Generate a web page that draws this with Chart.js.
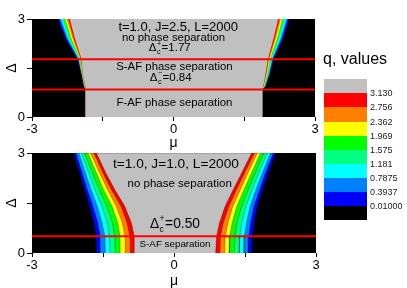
<!DOCTYPE html>
<html>
<head>
<meta charset="utf-8">
<script src="https://cdn.jsdelivr.net/npm/chart.js@4.4.0/dist/chart.umd.min.js"></script>
<style>
  body { margin:0; width:407px; height:288px; position:relative; background:#fff; overflow:hidden; font-family:"Liberation Sans", Arial, sans-serif; }
  canvas { position:absolute; left:0; }
  #legendTitle { position:absolute; left:323px; top:51px; font-size:16px; line-height:16px; color:#000; white-space:nowrap; }
  .box { position:absolute; left:324px; width:43px; }
  .lab { position:absolute; left:370px; font-size:9px; line-height:10px; color:#222; }
</style>
</head>
<body>
<canvas id="c1" width="330" height="150" style="top:0px"></canvas>
<canvas id="c2" width="330" height="148" style="top:140px"></canvas>
<div id="legendTitle">q, values</div>
<div id="legend"></div>
<script>
// ---------- data ----------
const levelValues = [0.01, 0.3937, 0.7875, 1.181, 1.575, 1.969, 2.362, 2.756, 3.13];
const levelLabels = ['3.130', '2.756', '2.362', '1.969', '1.575', '1.181', '0.7875', '0.3937', '0.01000'];
// colour of the band just above each level (last = above 3.130)
const bandColors = ['#0000ff', '#0080ff', '#00ffff', '#00ff80', '#00ff00', '#ffff00', '#ff8000', '#ff0000', '#c0c0c0'];
const belowColor = '#000000';

const muTicks = [-3, -1.5, 0, 1.5, 3];
const deltaTicks = [0, 1.5, 3];

// Top panel: t=1.0, J=2.5, L=2000
const deltaTop = [0, 0.84, 0.93, 1.3, 1.77, 2.4, 3];
const topLeft = [
  [-1.86, -1.86, -1.900, -1.950, -2.030, -2.290, -2.450],
  [-1.86, -1.86, -1.896, -1.946, -2.020, -2.265, -2.419],
  [-1.86, -1.86, -1.893, -1.943, -2.010, -2.240, -2.388],
  [-1.86, -1.86, -1.889, -1.939, -2.000, -2.215, -2.356],
  [-1.86, -1.86, -1.885, -1.935, -1.990, -2.190, -2.325],
  [-1.86, -1.86, -1.881, -1.931, -1.980, -2.165, -2.294],
  [-1.86, -1.86, -1.878, -1.928, -1.970, -2.140, -2.263],
  [-1.86, -1.86, -1.874, -1.924, -1.960, -2.115, -2.231],
  [-1.86, -1.86, -1.870, -1.920, -1.950, -2.090, -2.200]
];
const topRight = [
  [1.88, 1.88, 1.950, 2.040, 2.120, 2.320, 2.450],
  [1.88, 1.88, 1.944, 2.029, 2.105, 2.295, 2.421],
  [1.88, 1.88, 1.938, 2.018, 2.090, 2.270, 2.393],
  [1.88, 1.88, 1.931, 2.006, 2.075, 2.245, 2.364],
  [1.88, 1.88, 1.925, 1.995, 2.060, 2.220, 2.335],
  [1.88, 1.88, 1.919, 1.984, 2.045, 2.195, 2.306],
  [1.88, 1.88, 1.913, 1.973, 2.030, 2.170, 2.278],
  [1.88, 1.88, 1.906, 1.961, 2.015, 2.145, 2.249],
  [1.88, 1.88, 1.900, 1.950, 2.000, 2.120, 2.220]
];
const criticalTop = [1.77, 0.84];

// Bottom panel: t=1.0, J=1.0, L=2000
const deltaBottom = [0, 0.5, 0.9, 1.4, 1.9, 2.4, 3];
const bottomLeft = [
  [-1.63, -1.64, -1.69, -1.78, -1.89, -1.99, -2.12],
  [-1.55, -1.56, -1.61, -1.71, -1.83, -1.94, -2.07],
  [-1.45, -1.46, -1.52, -1.62, -1.75, -1.87, -2.01],
  [-1.35, -1.36, -1.41, -1.52, -1.67, -1.80, -1.95],
  [-1.24, -1.25, -1.30, -1.42, -1.58, -1.72, -1.89],
  [-1.13, -1.14, -1.19, -1.31, -1.49, -1.64, -1.82],
  [-1.02, -1.03, -1.09, -1.22, -1.40, -1.57, -1.76],
  [-0.92, -0.93, -0.99, -1.12, -1.32, -1.50, -1.69],
  [-0.83, -0.84, -0.90, -1.04, -1.25, -1.44, -1.64]
];
const bottomRight = [
  [1.65, 1.66, 1.69, 1.76, 1.87, 1.99, 2.15],
  [1.57, 1.58, 1.62, 1.69, 1.81, 1.93, 2.10],
  [1.48, 1.49, 1.53, 1.61, 1.73, 1.87, 2.04],
  [1.38, 1.39, 1.43, 1.52, 1.65, 1.79, 1.97],
  [1.27, 1.29, 1.33, 1.43, 1.57, 1.72, 1.90],
  [1.17, 1.18, 1.23, 1.33, 1.48, 1.64, 1.83],
  [1.07, 1.08, 1.14, 1.24, 1.40, 1.56, 1.76],
  [0.97, 0.98, 1.04, 1.16, 1.32, 1.49, 1.70],
  [0.88, 0.90, 0.96, 1.08, 1.25, 1.43, 1.64]
];
const criticalBottom = [0.50];

// ---------- annotations (text) ----------
const topNotes = [
  { text: 't=1.0, J=2.5, L=2000', x: 0.10, y: 2.73, size: 13 },
  { text: 'no phase separation', x: 0.0, y: 2.43, size: 11.4 },
  { delta: '+', text: '=1.77', x: -0.08, y: 2.11, size: 11.5 },
  { text: 'S-AF phase separation', x: 0.02, y: 1.53, size: 11.4 },
  { delta: '\u2212', text: '=0.84', x: -0.06, y: 1.20, size: 11.5 },
  { text: 'F-AF phase separation', x: 0.02, y: 0.44, size: 11.4 }
];
const bottomNotes = [
  { text: 't=1.0, J=1.0, L=2000', x: 0.04, y: 2.65, size: 13.7 },
  { text: 'no phase separation', x: 0.12, y: 2.07, size: 11.5 },
  { delta: '+', text: '=0.50', x: 0.02, y: 0.87, size: 13.8 },
  { text: 'S-AF separation', x: 0.02, y: 0.26, size: 9.8 }
];

const FONT = '"Liberation Sans", Arial, sans-serif';

const bgPlugin = {
  id: 'bg',
  beforeDatasetsDraw(chart) {
    const a = chart.chartArea, ctx = chart.ctx;
    ctx.save(); ctx.fillStyle = belowColor;
    ctx.fillRect(a.left, a.top, a.right - a.left, a.bottom - a.top);
    ctx.restore();
  }
};

const notePlugin = {
  id: 'notes',
  afterDatasetsDraw(chart, args, opts) {
    const ctx = chart.ctx, xs = chart.scales.x, ys = chart.scales.y;
    ctx.save();
    ctx.fillStyle = '#000';
    ctx.textBaseline = 'middle';
    (opts.items || []).forEach(n => {
      const px = xs.getPixelForValue(n.x), py = ys.getPixelForValue(n.y);
      if (!n.delta) {
        ctx.font = n.size + 'px ' + FONT;
        ctx.textAlign = 'center';
        ctx.fillText(n.text, px, py);
      } else {
        const s = n.size, ss = s * 0.62;
        ctx.font = s + 'px ' + FONT;
        const wD = ctx.measureText('\u0394').width;
        const wT = ctx.measureText(n.text).width;
        ctx.font = ss + 'px ' + FONT;
        const wS = Math.max(ctx.measureText(n.delta).width, ctx.measureText('c').width);
        const total = wD + wS + 1 + wT;
        let x0 = px - total / 2;
        ctx.textAlign = 'left';
        ctx.font = s + 'px ' + FONT;
        ctx.fillText('\u0394', x0, py);
        ctx.font = ss + 'px ' + FONT;
        ctx.fillText(n.delta, x0 + wD + 0.5, py - s * 0.38);
        ctx.fillText('c', x0 + wD + 0.5, py + s * 0.38);
        ctx.font = s + 'px ' + FONT;
        ctx.fillText(n.text, x0 + wD + wS + 1, py);
      }
    });
    ctx.restore();
  }
};

function makeChart(id, deltas, left, right, critical, notes, lay) {
  const datasets = [];
  levelValues.forEach((lv, k) => {
    const pts = deltas.map((d, i) => ({ x: left[k][i], y: d }))
      .concat(deltas.map((d, i) => ({ x: right[k][i], y: d })).reverse());
    datasets.push({
      label: 'q>' + lv,
      data: pts,
      showLine: true,
      fill: 'shape',
      backgroundColor: bandColors[k],
      borderColor: lay.lineColor,
      borderWidth: lay.lineWidth,
      pointRadius: 0,
      tension: 0,
      order: 20 - k
    });
  });
  critical.forEach(c => {
    datasets.push({
      label: 'Delta_c ' + c,
      data: [{ x: muTicks[0], y: c }, { x: muTicks[muTicks.length - 1], y: c }],
      showLine: true, fill: false,
      borderColor: '#ff0000', borderWidth: 2, pointRadius: 0, order: 0
    });
  });
  return new Chart(document.getElementById(id), {
    type: 'scatter',
    data: { datasets },
    options: {
      responsive: false,
      animation: false,
      layout: { padding: lay.padding },
      plugins: { legend: { display: false }, tooltip: { enabled: false }, notes: { items: notes } },
      scales: {
        x: {
          type: 'linear', min: -3, max: 3,
          afterBuildTicks: s => { s.ticks = muTicks.map(v => ({ value: v })); },
          afterFit: s => { s.height = lay.xHeight; },
          ticks: { autoSkip: false, maxRotation: 0, padding: 1, color: '#000',
                   font: { family: FONT, size: 13 },
                   callback: v => (v % 3 === 0 ? String(v) : '') },
          grid: { drawOnChartArea: false, drawTicks: true, tickLength: 4, color: '#000' },
          border: { display: false },
          title: { display: true, text: '\u03bc', color: '#000', font: { family: FONT, size: 14, lineHeight: 1 }, padding: { top: 0, bottom: lay.xTitlePad } }
        },
        y: {
          type: 'linear', min: 0, max: 3,
          afterBuildTicks: s => { s.ticks = deltaTicks.map(v => ({ value: v })); },
          afterFit: s => { s.width = 32; },
          ticks: { autoSkip: false, padding: 2, color: '#000',
                   font: { family: FONT, size: 13 },
                   callback: v => (v % 3 === 0 ? String(v) : '') },
          grid: { drawOnChartArea: false, drawTicks: true, tickLength: 5, color: '#000' },
          border: { display: false },
          title: { display: true, text: '\u0394', color: '#000', font: { family: FONT, size: 14, lineHeight: 1 }, padding: { top: 5, bottom: 0 } }
        }
      }
    },
    plugins: [bgPlugin, notePlugin]
  });
}

makeChart('c1', deltaTop, topLeft, topRight, criticalTop, topNotes,
  { padding: { left: 0, top: 19, right: 15, bottom: 0 }, xHeight: 33, xTitlePad: 0, lineColor: 'rgba(0,0,0,0)', lineWidth: 0 });
makeChart('c2', deltaBottom, bottomLeft, bottomRight, criticalBottom, bottomNotes,
  { padding: { left: 0, top: 13, right: 14, bottom: 0 }, xHeight: 35, xTitlePad: 0, lineColor: 'rgba(0,0,0,0.5)', lineWidth: 0.6 });

// ---------- colour bar legend ----------
const legend = document.getElementById('legend');
const boxColors = bandColors.slice().reverse().concat([belowColor]);
const top0 = 79.3, bh = 14.07;
boxColors.forEach((c, i) => {
  const d = document.createElement('div');
  d.className = 'box';
  d.style.top = (top0 + i * bh) + 'px';
  d.style.height = bh + 'px';
  d.style.background = c;
  legend.appendChild(d);
});
levelLabels.forEach((t, i) => {
  const d = document.createElement('div');
  d.className = 'lab';
  d.style.top = (top0 + (i + 1) * bh - 5) + 'px';
  d.textContent = t;
  legend.appendChild(d);
});
</script>
</body>
</html>
